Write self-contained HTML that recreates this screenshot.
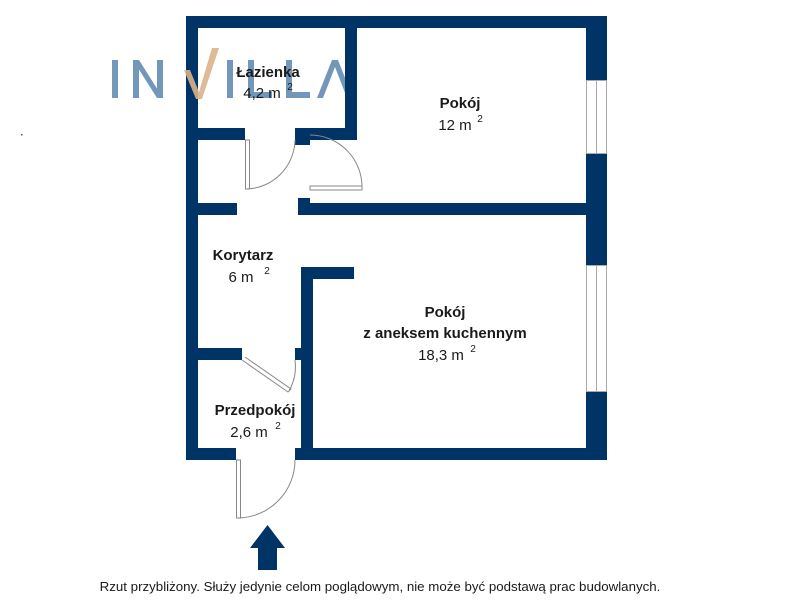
<!DOCTYPE html>
<html><head><meta charset="utf-8"><style>
html,body{margin:0;padding:0;background:#fff;}
svg{display:block;}
text{font-family:"Liberation Sans",sans-serif;fill:#1a1a1a;}
</style></head><body>
<svg width="800" height="600" viewBox="0 0 800 600" xmlns="http://www.w3.org/2000/svg">
<rect width="800" height="600" fill="#fff"/>
<g fill="#5b86ae" opacity="0.85">
<rect x="112" y="60" width="6" height="38"/>
<rect x="133" y="60" width="6" height="38"/>
<rect x="157" y="60" width="6" height="38"/>
<polygon points="133,60 139,60 163,98 157,98"/>
<rect x="227" y="60" width="6" height="38"/>
<rect x="248" y="60" width="6" height="38"/>
<rect x="248" y="92" width="24" height="6"/>
<rect x="286" y="60" width="6" height="38"/>
<rect x="286" y="92" width="24" height="6"/>
<polygon points="317,98 332,60 338,60 353,98 347,98 335,67 323,98"/>
</g>
<g fill="#003366">
<rect x="186" y="16" width="421" height="12"/>
<rect x="186" y="16" width="12" height="444"/>
<rect x="186" y="448" width="50" height="12"/>
<rect x="295" y="448" width="312" height="12"/>
<rect x="586" y="16" width="21" height="64"/>
<rect x="586" y="154" width="21" height="111"/>
<rect x="586" y="392" width="21" height="68"/>
<rect x="345" y="16" width="12" height="124"/>
<rect x="186" y="128" width="59" height="12"/>
<rect x="295" y="128" width="62" height="12"/>
<rect x="295" y="128" width="15" height="17"/>
<rect x="186" y="203" width="51" height="12"/>
<rect x="298" y="203" width="288" height="12"/>
<rect x="298" y="198" width="12" height="17"/>
<rect x="301" y="267" width="12" height="185"/>
<rect x="301" y="267" width="53" height="12"/>
<rect x="186" y="348" width="56" height="12"/>
<rect x="295" y="348" width="18" height="12"/>
</g>
<polygon points="184,70 190,70 199,92 212,48 219,48 202,99 196,99" fill="#d9b48a" opacity="0.9"/>
<g fill="none" stroke="#aaa" stroke-width="1">
<rect x="586.5" y="80.5" width="20" height="73"/>
<line x1="596.5" y1="80" x2="596.5" y2="154"/>
<rect x="586.5" y="265.5" width="20" height="126"/>
<line x1="596.5" y1="265" x2="596.5" y2="392"/>
</g>
<g fill="none" stroke="#888" stroke-width="1">
<rect x="245.5" y="140" width="4" height="49"/>
<path d="M247 189 A50 50 0 0 0 295 140"/>
<rect x="310" y="186" width="52" height="4"/>
<path d="M362 188 A52 52 0 0 0 310 135"/>
<path d="M242 360 L288 392 L291 389 L245 357"/>
<path d="M289 391 A50 50 0 0 0 295 360"/>
<rect x="236.5" y="460" width="4" height="58"/>
<path d="M238 518 A58 58 0 0 0 295 460"/>
</g>
<g font-size="15" text-anchor="middle">
<text x="268" y="77" font-weight="bold">Łazienka</text>
<text x="262" y="98">4,2 m</text><text x="290" y="90" font-size="10">2</text>
<text x="460" y="108" font-weight="bold">Pokój</text>
<text x="455" y="130">12 m</text><text x="480" y="122" font-size="10">2</text>
<text x="243" y="260" font-weight="bold">Korytarz</text>
<text x="241" y="282">6 m</text><text x="267" y="274" font-size="10">2</text>
<text x="445" y="317" font-weight="bold">Pokój</text>
<text x="445" y="338" font-weight="bold">z aneksem kuchennym</text>
<text x="441" y="360">18,3 m</text><text x="473" y="352" font-size="10">2</text>
<text x="255" y="415" font-weight="bold">Przedpokój</text>
<text x="249" y="437">2,6 m</text><text x="278" y="429" font-size="10">2</text>
</g>
<path d="M250 548 L267.5 525 L285 548 L277 548 L277 570 L258 570 L258 548 Z" fill="#003366"/>
<text x="380" y="591" font-size="13.3" text-anchor="middle" fill="#222">Rzut przybliżony. Służy jedynie celom poglądowym, nie może być podstawą prac budowlanych.</text>
<rect x="21" y="134" width="1.5" height="1.5" fill="#555"/>
</svg>
</body></html>
